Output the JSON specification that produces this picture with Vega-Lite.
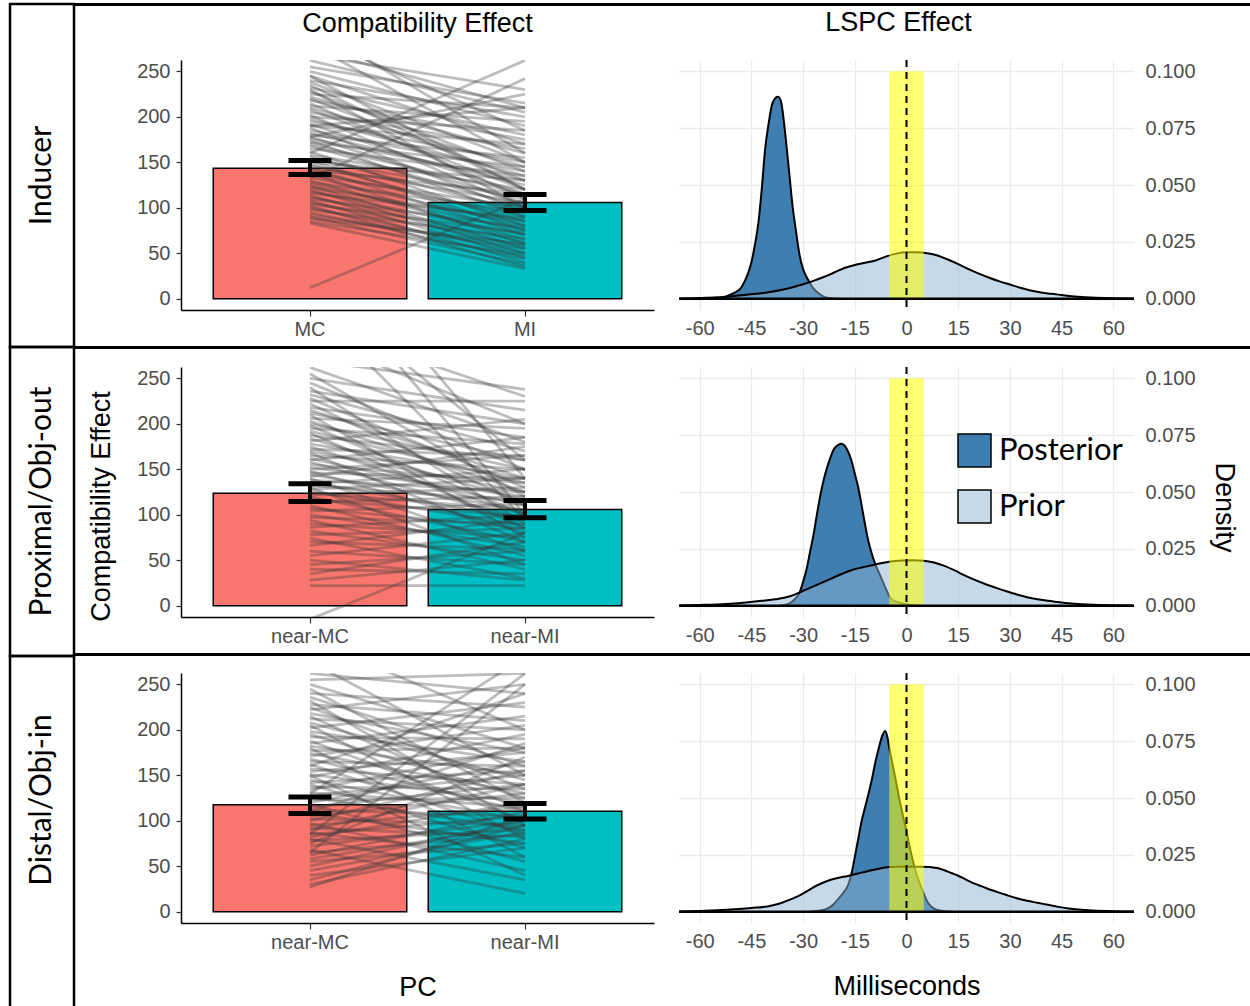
{
"$schema": "https://vega.github.io/schema/vega-lite/v6.json",
"background": "white",
"padding": {"left": 8, "top": 2, "right": 0, "bottom": 0},
"config": {
  "view": {"stroke": null},
  "font": "Liberation Sans",
  "axis": {"labelFont": "Liberation Sans", "labelFontSize": 20, "labelColor": "#4D4D4D", "titleFont": "Liberation Sans", "titleFontSize": 27, "titleFontWeight": "normal", "titleColor": "black", "domainColor": "black", "domainWidth": 1.5, "tickColor": "#333333", "tickWidth": 1.2, "labelOverlap": false, "labelFlush": false, "grid": false},
  "title": {"font": "Liberation Sans", "fontSize": 27, "fontWeight": "normal", "color": "black"}
},
"datasets": {
  "bars1": [{"c":"MC","m":143.5,"lo":136.5,"hi":152},{"c":"MI","m":105.7,"lo":97,"hi":114.5}],
  "bars2": [{"c":"near-MC","m":123.7,"lo":114.5,"hi":134},{"c":"near-MI","m":105.7,"lo":96.6,"hi":115.6}],
  "bars3": [{"c":"near-MC","m":117.5,"lo":108,"hi":126},{"c":"near-MI","m":110.5,"lo":102,"hi":119}],
  "subj1": [{"s":1,"MC":275,"MI":210},{"s":2,"MC":290,"MI":185},{"s":3,"MC":268,"MI":230},{"s":4,"MC":300,"MI":160},{"s":5,"MC":262,"MI":205},{"s":6,"MC":280,"MI":150},{"s":7,"MC":255,"MI":215},{"s":8,"MC":250,"MI":190},{"s":9,"MC":245,"MI":170},{"s":10,"MC":240,"MI":200},{"s":11,"MC":238,"MI":150},{"s":12,"MC":235,"MI":120},{"s":13,"MC":232,"MI":180},{"s":14,"MC":228,"MI":140},{"s":15,"MC":225,"MI":210},{"s":16,"MC":222,"MI":160},{"s":17,"MC":220,"MI":130},{"s":18,"MC":218,"MI":175},{"s":19,"MC":215,"MI":110},{"s":20,"MC":212,"MI":195},{"s":21,"MC":210,"MI":145},{"s":22,"MC":208,"MI":120},{"s":23,"MC":205,"MI":165},{"s":24,"MC":202,"MI":100},{"s":25,"MC":200,"MI":185},{"s":26,"MC":198,"MI":135},{"s":27,"MC":195,"MI":150},{"s":28,"MC":192,"MI":115},{"s":29,"MC":190,"MI":170},{"s":30,"MC":188,"MI":95},{"s":31,"MC":185,"MI":140},{"s":32,"MC":182,"MI":125},{"s":33,"MC":180,"MI":155},{"s":34,"MC":178,"MI":105},{"s":35,"MC":176,"MI":130},{"s":36,"MC":174,"MI":90},{"s":37,"MC":172,"MI":145},{"s":38,"MC":170,"MI":115},{"s":39,"MC":168,"MI":100},{"s":40,"MC":165,"MI":135},{"s":41,"MC":162,"MI":80},{"s":42,"MC":160,"MI":262},{"s":43,"MC":158,"MI":120},{"s":44,"MC":156,"MI":95},{"s":45,"MC":154,"MI":110},{"s":46,"MC":152,"MI":75},{"s":47,"MC":150,"MI":130},{"s":48,"MC":148,"MI":85},{"s":49,"MC":146,"MI":105},{"s":50,"MC":144,"MI":70},{"s":51,"MC":142,"MI":115},{"s":52,"MC":140,"MI":90},{"s":53,"MC":138,"MI":60},{"s":54,"MC":136,"MI":100},{"s":55,"MC":134,"MI":80},{"s":56,"MC":132,"MI":242},{"s":57,"MC":130,"MI":65},{"s":58,"MC":128,"MI":95},{"s":59,"MC":126,"MI":75},{"s":60,"MC":124,"MI":55},{"s":61,"MC":122,"MI":85},{"s":62,"MC":120,"MI":50},{"s":63,"MC":118,"MI":70},{"s":64,"MC":116,"MI":88},{"s":65,"MC":114,"MI":45},{"s":66,"MC":112,"MI":62},{"s":67,"MC":110,"MI":78},{"s":68,"MC":108,"MI":40},{"s":69,"MC":106,"MI":58},{"s":70,"MC":104,"MI":72},{"s":71,"MC":102,"MI":35},{"s":72,"MC":100,"MI":50},{"s":73,"MC":98,"MI":66},{"s":74,"MC":95,"MI":44},{"s":75,"MC":92,"MI":55},{"s":76,"MC":90,"MI":38},{"s":77,"MC":88,"MI":60},{"s":78,"MC":85,"MI":48},{"s":79,"MC":83,"MI":33},{"s":80,"MC":12,"MI":110},{"s":81,"MC":178,"MI":225},{"s":82,"MC":245,"MI":120},{"s":83,"MC":190,"MI":210},{"s":84,"MC":230,"MI":100}],
  "subj2": [{"s":1,"near-MC":420,"near-MI":140},{"s":2,"near-MC":380,"near-MI":100},{"s":3,"near-MC":350,"near-MI":160},{"s":4,"near-MC":330,"near-MI":95},{"s":5,"near-MC":310,"near-MI":230},{"s":6,"near-MC":295,"near-MI":200},{"s":7,"near-MC":270,"near-MI":238},{"s":8,"near-MC":262,"near-MI":180},{"s":9,"near-MC":255,"near-MI":120},{"s":10,"near-MC":250,"near-MI":215},{"s":11,"near-MC":245,"near-MI":150},{"s":12,"near-MC":240,"near-MI":90},{"s":13,"near-MC":236,"near-MI":200},{"s":14,"near-MC":232,"near-MI":170},{"s":15,"near-MC":228,"near-MI":130},{"s":16,"near-MC":225,"near-MI":225},{"s":17,"near-MC":222,"near-MI":110},{"s":18,"near-MC":218,"near-MI":185},{"s":19,"near-MC":215,"near-MI":140},{"s":20,"near-MC":212,"near-MI":160},{"s":21,"near-MC":210,"near-MI":75},{"s":22,"near-MC":206,"near-MI":195},{"s":23,"near-MC":203,"near-MI":125},{"s":24,"near-MC":200,"near-MI":150},{"s":25,"near-MC":198,"near-MI":100},{"s":26,"near-MC":195,"near-MI":178},{"s":27,"near-MC":192,"near-MI":135},{"s":28,"near-MC":190,"near-MI":85},{"s":29,"near-MC":187,"near-MI":160},{"s":30,"near-MC":184,"near-MI":115},{"s":31,"near-MC":181,"near-MI":205},{"s":32,"near-MC":178,"near-MI":140},{"s":33,"near-MC":175,"near-MI":100},{"s":34,"near-MC":172,"near-MI":165},{"s":35,"near-MC":170,"near-MI":125},{"s":36,"near-MC":168,"near-MI":70},{"s":37,"near-MC":165,"near-MI":150},{"s":38,"near-MC":162,"near-MI":110},{"s":39,"near-MC":160,"near-MI":185},{"s":40,"near-MC":158,"near-MI":95},{"s":41,"near-MC":155,"near-MI":135},{"s":42,"near-MC":152,"near-MI":120},{"s":43,"near-MC":150,"near-MI":165},{"s":44,"near-MC":148,"near-MI":80},{"s":45,"near-MC":146,"near-MI":140},{"s":46,"near-MC":144,"near-MI":105},{"s":47,"near-MC":142,"near-MI":175},{"s":48,"near-MC":140,"near-MI":60},{"s":49,"near-MC":138,"near-MI":125},{"s":50,"near-MC":136,"near-MI":95},{"s":51,"near-MC":134,"near-MI":150},{"s":52,"near-MC":132,"near-MI":115},{"s":53,"near-MC":130,"near-MI":45},{"s":54,"near-MC":128,"near-MI":140},{"s":55,"near-MC":126,"near-MI":88},{"s":56,"near-MC":124,"near-MI":105},{"s":57,"near-MC":122,"near-MI":130},{"s":58,"near-MC":120,"near-MI":70},{"s":59,"near-MC":117,"near-MI":98},{"s":60,"near-MC":114,"near-MI":120},{"s":61,"near-MC":110,"near-MI":55},{"s":62,"near-MC":107,"near-MI":85},{"s":63,"near-MC":104,"near-MI":112},{"s":64,"near-MC":100,"near-MI":65},{"s":65,"near-MC":97,"near-MI":90},{"s":66,"near-MC":94,"near-MI":40},{"s":67,"near-MC":90,"near-MI":75},{"s":68,"near-MC":86,"near-MI":100},{"s":69,"near-MC":82,"near-MI":50},{"s":70,"near-MC":78,"near-MI":85},{"s":71,"near-MC":74,"near-MI":30},{"s":72,"near-MC":70,"near-MI":62},{"s":73,"near-MC":66,"near-MI":95},{"s":74,"near-MC":60,"near-MI":45},{"s":75,"near-MC":55,"near-MI":80},{"s":76,"near-MC":50,"near-MI":28},{"s":77,"near-MC":45,"near-MI":60},{"s":78,"near-MC":40,"near-MI":35},{"s":79,"near-MC":35,"near-MI":70},{"s":80,"near-MC":28,"near-MI":50},{"s":81,"near-MC":22,"near-MI":22},{"s":82,"near-MC":-15,"near-MI":80}],
  "subj3": [{"s":1,"near-MC":300,"near-MI":200},{"s":2,"near-MC":275,"near-MI":150},{"s":3,"near-MC":262,"near-MI":240},{"s":4,"near-MC":255,"near-MI":262},{"s":5,"near-MC":250,"near-MI":180},{"s":6,"near-MC":245,"near-MI":120},{"s":7,"near-MC":240,"near-MI":225},{"s":8,"near-MC":236,"near-MI":160},{"s":9,"near-MC":232,"near-MI":95},{"s":10,"near-MC":228,"near-MI":210},{"s":11,"near-MC":225,"near-MI":135},{"s":12,"near-MC":222,"near-MI":250},{"s":13,"near-MC":218,"near-MI":175},{"s":14,"near-MC":215,"near-MI":110},{"s":15,"near-MC":212,"near-MI":200},{"s":16,"near-MC":208,"near-MI":145},{"s":17,"near-MC":205,"near-MI":80},{"s":18,"near-MC":202,"near-MI":230},{"s":19,"near-MC":198,"near-MI":165},{"s":20,"near-MC":195,"near-MI":125},{"s":21,"near-MC":192,"near-MI":190},{"s":22,"near-MC":188,"near-MI":100},{"s":23,"near-MC":185,"near-MI":215},{"s":24,"near-MC":182,"near-MI":150},{"s":25,"near-MC":180,"near-MI":60},{"s":26,"near-MC":177,"near-MI":180},{"s":27,"near-MC":174,"near-MI":130},{"s":28,"near-MC":171,"near-MI":205},{"s":29,"near-MC":168,"near-MI":110},{"s":30,"near-MC":165,"near-MI":160},{"s":31,"near-MC":162,"near-MI":85},{"s":32,"near-MC":160,"near-MI":240},{"s":33,"near-MC":157,"near-MI":140},{"s":34,"near-MC":154,"near-MI":175},{"s":35,"near-MC":151,"near-MI":120},{"s":36,"near-MC":148,"near-MI":195},{"s":37,"near-MC":145,"near-MI":100},{"s":38,"near-MC":142,"near-MI":155},{"s":39,"near-MC":140,"near-MI":70},{"s":40,"near-MC":137,"near-MI":135},{"s":41,"near-MC":134,"near-MI":180},{"s":42,"near-MC":131,"near-MI":115},{"s":43,"near-MC":128,"near-MI":150},{"s":44,"near-MC":126,"near-MI":90},{"s":45,"near-MC":123,"near-MI":125},{"s":46,"near-MC":120,"near-MI":165},{"s":47,"near-MC":118,"near-MI":55},{"s":48,"near-MC":115,"near-MI":140},{"s":49,"near-MC":112,"near-MI":105},{"s":50,"near-MC":110,"near-MI":185},{"s":51,"near-MC":108,"near-MI":75},{"s":52,"near-MC":105,"near-MI":130},{"s":53,"near-MC":102,"near-MI":95},{"s":54,"near-MC":100,"near-MI":155},{"s":55,"near-MC":97,"near-MI":45},{"s":56,"near-MC":95,"near-MI":115},{"s":57,"near-MC":92,"near-MI":82},{"s":58,"near-MC":90,"near-MI":140},{"s":59,"near-MC":87,"near-MI":60},{"s":60,"near-MC":85,"near-MI":105},{"s":61,"near-MC":82,"near-MI":120},{"s":62,"near-MC":80,"near-MI":35},{"s":63,"near-MC":78,"near-MI":90},{"s":64,"near-MC":75,"near-MI":170},{"s":65,"near-MC":72,"near-MI":100},{"s":66,"near-MC":68,"near-MI":20},{"s":67,"near-MC":65,"near-MI":85},{"s":68,"near-MC":62,"near-MI":110},{"s":69,"near-MC":58,"near-MI":95},{"s":70,"near-MC":55,"near-MI":75},{"s":71,"near-MC":50,"near-MI":100},{"s":72,"near-MC":45,"near-MI":88},{"s":73,"near-MC":40,"near-MI":70},{"s":74,"near-MC":35,"near-MI":95},{"s":75,"near-MC":30,"near-MI":80},{"s":76,"near-MC":27,"near-MI":105},{"s":77,"near-MC":65,"near-MI":250},{"s":78,"near-MC":85,"near-MI":262},{"s":79,"near-MC":130,"near-MI":280},{"s":80,"near-MC":150,"near-MI":40}],
  "dens1": [
    {"d":"Posterior","x":-58,"y":0},{"d":"Posterior","x":-54,"y":0.0003},{"d":"Posterior","x":-52,"y":0.0012},{"d":"Posterior","x":-50,"y":0.0025},{"d":"Posterior","x":-48,"y":0.0048},{"d":"Posterior","x":-47,"y":0.0075},{"d":"Posterior","x":-46,"y":0.011},{"d":"Posterior","x":-45,"y":0.016},{"d":"Posterior","x":-44,"y":0.0235},{"d":"Posterior","x":-43,"y":0.033},{"d":"Posterior","x":-42,"y":0.048},{"d":"Posterior","x":-41,"y":0.066},{"d":"Posterior","x":-40,"y":0.077},{"d":"Posterior","x":-39,"y":0.0855},{"d":"Posterior","x":-38,"y":0.0883},{"d":"Posterior","x":-37.3,"y":0.0888},{"d":"Posterior","x":-36.5,"y":0.0872},{"d":"Posterior","x":-35.5,"y":0.077},{"d":"Posterior","x":-35,"y":0.07},{"d":"Posterior","x":-34,"y":0.055},{"d":"Posterior","x":-33,"y":0.04},{"d":"Posterior","x":-32,"y":0.029},{"d":"Posterior","x":-31,"y":0.019},{"d":"Posterior","x":-30,"y":0.013},{"d":"Posterior","x":-29,"y":0.0095},{"d":"Posterior","x":-28,"y":0.0068},{"d":"Posterior","x":-27,"y":0.0045},{"d":"Posterior","x":-26,"y":0.003},{"d":"Posterior","x":-25,"y":0.0018},{"d":"Posterior","x":-24,"y":0.0009},{"d":"Posterior","x":-23,"y":0.0004},{"d":"Posterior","x":-21,"y":0.0001},{"d":"Posterior","x":-19,"y":0},
    {"d":"Prior","x":-66,"y":0.0001},{"d":"Prior","x":-60,"y":0.0003},{"d":"Prior","x":-55,"y":0.0006},{"d":"Prior","x":-50,"y":0.0012},{"d":"Prior","x":-45,"y":0.0019},{"d":"Prior","x":-40,"y":0.0028},{"d":"Prior","x":-35,"y":0.0042},{"d":"Prior","x":-30,"y":0.0063},{"d":"Prior","x":-27,"y":0.0078},{"d":"Prior","x":-24,"y":0.0095},{"d":"Prior","x":-21,"y":0.0115},{"d":"Prior","x":-18,"y":0.0135},{"d":"Prior","x":-15,"y":0.0148},{"d":"Prior","x":-12,"y":0.0158},{"d":"Prior","x":-9,"y":0.0168},{"d":"Prior","x":-6,"y":0.0185},{"d":"Prior","x":-3,"y":0.0198},{"d":"Prior","x":0,"y":0.0204},{"d":"Prior","x":3,"y":0.0204},{"d":"Prior","x":6,"y":0.02},{"d":"Prior","x":9,"y":0.019},{"d":"Prior","x":12,"y":0.0172},{"d":"Prior","x":15,"y":0.0152},{"d":"Prior","x":18,"y":0.013},{"d":"Prior","x":21,"y":0.011},{"d":"Prior","x":24,"y":0.0092},{"d":"Prior","x":27,"y":0.0076},{"d":"Prior","x":30,"y":0.0062},{"d":"Prior","x":33,"y":0.0048},{"d":"Prior","x":36,"y":0.0036},{"d":"Prior","x":39,"y":0.0027},{"d":"Prior","x":42,"y":0.0021},{"d":"Prior","x":45,"y":0.0016},{"d":"Prior","x":48,"y":0.0011},{"d":"Prior","x":51,"y":0.0007},{"d":"Prior","x":55,"y":0.0004},{"d":"Prior","x":60,"y":0.0002},{"d":"Prior","x":66,"y":0.0001}
  ],
  "dens2": [
    {"d":"Posterior","x":-37,"y":0},{"d":"Posterior","x":-35,"y":0.0004},{"d":"Posterior","x":-34,"y":0.001},{"d":"Posterior","x":-33,"y":0.002},{"d":"Posterior","x":-32,"y":0.0035},{"d":"Posterior","x":-31,"y":0.0058},{"d":"Posterior","x":-30,"y":0.0105},{"d":"Posterior","x":-29,"y":0.016},{"d":"Posterior","x":-28,"y":0.0235},{"d":"Posterior","x":-27,"y":0.031},{"d":"Posterior","x":-26,"y":0.04},{"d":"Posterior","x":-25,"y":0.0485},{"d":"Posterior","x":-24,"y":0.0555},{"d":"Posterior","x":-23,"y":0.061},{"d":"Posterior","x":-22,"y":0.0655},{"d":"Posterior","x":-21,"y":0.069},{"d":"Posterior","x":-20,"y":0.0705},{"d":"Posterior","x":-19,"y":0.0712},{"d":"Posterior","x":-18,"y":0.0705},{"d":"Posterior","x":-17,"y":0.068},{"d":"Posterior","x":-16,"y":0.064},{"d":"Posterior","x":-15,"y":0.058},{"d":"Posterior","x":-14,"y":0.052},{"d":"Posterior","x":-13,"y":0.044},{"d":"Posterior","x":-12,"y":0.0355},{"d":"Posterior","x":-11,"y":0.028},{"d":"Posterior","x":-10,"y":0.0225},{"d":"Posterior","x":-9,"y":0.018},{"d":"Posterior","x":-8,"y":0.0145},{"d":"Posterior","x":-7,"y":0.011},{"d":"Posterior","x":-6,"y":0.0075},{"d":"Posterior","x":-5,"y":0.0042},{"d":"Posterior","x":-4,"y":0.0025},{"d":"Posterior","x":-3,"y":0.0018},{"d":"Posterior","x":-2,"y":0.0013},{"d":"Posterior","x":0,"y":0.0006},{"d":"Posterior","x":2,"y":0.0002},{"d":"Posterior","x":4,"y":0},
    {"d":"Prior","x":-66,"y":0.0001},{"d":"Prior","x":-60,"y":0.0003},{"d":"Prior","x":-55,"y":0.0005},{"d":"Prior","x":-50,"y":0.0009},{"d":"Prior","x":-46,"y":0.0015},{"d":"Prior","x":-42,"y":0.0021},{"d":"Prior","x":-38,"y":0.0028},{"d":"Prior","x":-34,"y":0.004},{"d":"Prior","x":-31,"y":0.0058},{"d":"Prior","x":-28,"y":0.0078},{"d":"Prior","x":-25,"y":0.0098},{"d":"Prior","x":-22,"y":0.0118},{"d":"Prior","x":-19,"y":0.0138},{"d":"Prior","x":-16,"y":0.0156},{"d":"Prior","x":-13,"y":0.0168},{"d":"Prior","x":-10,"y":0.0178},{"d":"Prior","x":-7,"y":0.0188},{"d":"Prior","x":-4,"y":0.0195},{"d":"Prior","x":-1,"y":0.0199},{"d":"Prior","x":2,"y":0.02},{"d":"Prior","x":5,"y":0.0198},{"d":"Prior","x":8,"y":0.019},{"d":"Prior","x":11,"y":0.0175},{"d":"Prior","x":14,"y":0.0155},{"d":"Prior","x":17,"y":0.0132},{"d":"Prior","x":20,"y":0.0112},{"d":"Prior","x":23,"y":0.0094},{"d":"Prior","x":26,"y":0.0078},{"d":"Prior","x":29,"y":0.0063},{"d":"Prior","x":32,"y":0.0049},{"d":"Prior","x":35,"y":0.0037},{"d":"Prior","x":38,"y":0.0028},{"d":"Prior","x":41,"y":0.0021},{"d":"Prior","x":44,"y":0.0016},{"d":"Prior","x":47,"y":0.0011},{"d":"Prior","x":50,"y":0.0007},{"d":"Prior","x":54,"y":0.0004},{"d":"Prior","x":60,"y":0.0002},{"d":"Prior","x":66,"y":0.0001}
  ],
  "dens3": [
    {"d":"Posterior","x":-28,"y":0},{"d":"Posterior","x":-25,"y":0.0005},{"d":"Posterior","x":-23,"y":0.0013},{"d":"Posterior","x":-22,"y":0.0022},{"d":"Posterior","x":-21,"y":0.0035},{"d":"Posterior","x":-20,"y":0.0052},{"d":"Posterior","x":-19,"y":0.007},{"d":"Posterior","x":-18,"y":0.009},{"d":"Posterior","x":-17,"y":0.0115},{"d":"Posterior","x":-16,"y":0.0165},{"d":"Posterior","x":-15,"y":0.024},{"d":"Posterior","x":-14,"y":0.032},{"d":"Posterior","x":-13,"y":0.04},{"d":"Posterior","x":-12,"y":0.046},{"d":"Posterior","x":-11,"y":0.052},{"d":"Posterior","x":-10,"y":0.0585},{"d":"Posterior","x":-9,"y":0.066},{"d":"Posterior","x":-8,"y":0.0722},{"d":"Posterior","x":-7,"y":0.0775},{"d":"Posterior","x":-6.2,"y":0.0795},{"d":"Posterior","x":-5.5,"y":0.0765},{"d":"Posterior","x":-5,"y":0.072},{"d":"Posterior","x":-4,"y":0.0645},{"d":"Posterior","x":-3,"y":0.057},{"d":"Posterior","x":-2,"y":0.049},{"d":"Posterior","x":-1,"y":0.042},{"d":"Posterior","x":0,"y":0.0355},{"d":"Posterior","x":1,"y":0.028},{"d":"Posterior","x":2,"y":0.0215},{"d":"Posterior","x":3,"y":0.016},{"d":"Posterior","x":4,"y":0.0118},{"d":"Posterior","x":5,"y":0.008},{"d":"Posterior","x":6,"y":0.0045},{"d":"Posterior","x":7,"y":0.0025},{"d":"Posterior","x":8,"y":0.0013},{"d":"Posterior","x":9,"y":0.0007},{"d":"Posterior","x":11,"y":0.0002},{"d":"Posterior","x":13,"y":0},
    {"d":"Prior","x":-66,"y":0.0001},{"d":"Prior","x":-60,"y":0.0003},{"d":"Prior","x":-55,"y":0.0006},{"d":"Prior","x":-50,"y":0.001},{"d":"Prior","x":-45,"y":0.0016},{"d":"Prior","x":-40,"y":0.0024},{"d":"Prior","x":-37,"y":0.0035},{"d":"Prior","x":-34,"y":0.0052},{"d":"Prior","x":-31,"y":0.0072},{"d":"Prior","x":-28,"y":0.0098},{"d":"Prior","x":-26,"y":0.0115},{"d":"Prior","x":-23,"y":0.0135},{"d":"Prior","x":-20,"y":0.0148},{"d":"Prior","x":-17,"y":0.0157},{"d":"Prior","x":-14,"y":0.0168},{"d":"Prior","x":-11,"y":0.0179},{"d":"Prior","x":-8,"y":0.0189},{"d":"Prior","x":-5,"y":0.0196},{"d":"Prior","x":-2,"y":0.0198},{"d":"Prior","x":1,"y":0.0198},{"d":"Prior","x":4,"y":0.0198},{"d":"Prior","x":7,"y":0.0196},{"d":"Prior","x":9,"y":0.0192},{"d":"Prior","x":11,"y":0.0182},{"d":"Prior","x":13,"y":0.017},{"d":"Prior","x":15,"y":0.0158},{"d":"Prior","x":17,"y":0.0143},{"d":"Prior","x":19,"y":0.0128},{"d":"Prior","x":21,"y":0.0116},{"d":"Prior","x":23,"y":0.0104},{"d":"Prior","x":26,"y":0.0088},{"d":"Prior","x":29,"y":0.0073},{"d":"Prior","x":32,"y":0.0059},{"d":"Prior","x":35,"y":0.0048},{"d":"Prior","x":38,"y":0.0039},{"d":"Prior","x":41,"y":0.003},{"d":"Prior","x":44,"y":0.0021},{"d":"Prior","x":47,"y":0.0014},{"d":"Prior","x":50,"y":0.0009},{"d":"Prior","x":54,"y":0.0005},{"d":"Prior","x":60,"y":0.0002},{"d":"Prior","x":66,"y":0.0001}
  ],
  "rope": [{"a":-5,"b":5,"lo":0,"hi":0.1}],
  "one": [{"z":0}],
  "none": []
},
"spacing": -2,
"bounds": "full",
"hconcat": [
  {"vconcat": [
    {"width": 64, "height": 343, "view": {"stroke": "black", "strokeWidth": 2.5}, "data": {"values": [{"t": "Inducer"}]}, "mark": {"type": "text", "angle": 270, "font": "Lato", "fontSize": 30, "color": "black", "align": "center", "baseline": "middle"}, "encoding": {"text": {"field": "t"}}},
    {"width": 64, "height": 309, "view": {"stroke": "black", "strokeWidth": 2.5}, "data": {"values": [{"t": "Proximal/Obj-out"}]}, "mark": {"type": "text", "angle": 270, "font": "Lato", "fontSize": 30, "color": "black", "align": "center", "baseline": "middle"}, "encoding": {"text": {"field": "t"}}},
    {"width": 64, "height": 356, "view": {"stroke": "black", "strokeWidth": 2.5}, "data": {"values": [{"t": "Distal/Obj-in"}]}, "mark": {"type": "text", "angle": 270, "font": "Lato", "fontSize": 30, "color": "black", "align": "center", "baseline": "middle", "yOffset": -34}, "encoding": {"text": {"field": "t"}}}
  ], "spacing": 0, "bounds": "flush"},
  {"vconcat": [
    {"vconcat": [
      {"width": 1176, "height": 1, "view": {"stroke": "black", "strokeWidth": 2}, "data": {"name": "none"}, "mark": "point", "encoding": {}},
      {"hconcat": [
        {"width": 80, "height": 250, "data": {"name": "none"}, "mark": "point", "encoding": {}},
        {"width": 473, "height": 250,
         "title": {"text": "Compatibility Effect", "offset": 22},
         "layer": [
          {"data": {"name": "bars1"}, "mark": {"type": "bar", "stroke": "black", "strokeWidth": 1.5},
           "encoding": {
             "x": {"field": "c", "type": "nominal", "scale": {"domain": ["MC","MI"], "paddingInner": 0.1, "paddingOuter": 0.15}, "axis": {"title": null, "labelAngle": 0, "tickSize": 6, "labelPadding": 3}},
             "y": {"field": "m", "type": "quantitative", "title": null, "scale": {"domain": [-12.5, 262.5], "nice": false, "zero": false}, "axis": {"values": [0,50,100,150,200,250], "title": null, "tickSize": 5, "labelPadding": 6}},
             "fill": {"field": "c", "type": "nominal", "scale": {"domain": ["MC","MI"], "range": ["#F8766D","#00BFC4"]}, "legend": null}}},
          {"data": {"name": "subj1"}, "transform": [{"fold": ["MC","MI"], "as": ["c","v"]}],
           "mark": {"type": "line", "color": "#383838", "opacity": 0.33, "strokeWidth": 2.8, "clip": true},
           "encoding": {"x": {"field": "c", "type": "nominal"}, "y": {"field": "v", "type": "quantitative", "title": null}, "detail": {"field": "s", "type": "nominal"}}},
          {"data": {"name": "bars1"}, "mark": {"type": "errorbar", "ticks": {"size": 43, "thickness": 5, "color": "black", "opacity": 1}, "rule": {"strokeWidth": 4, "color": "black", "opacity": 1}, "color": "black", "opacity": 1},
           "encoding": {"x": {"field": "c", "type": "nominal"}, "y": {"field": "lo", "type": "quantitative", "title": null}, "y2": {"field": "hi"}}}
         ]},
        {"width": 455, "height": 250,
         "title": {"text": "LSPC Effect", "offset": 22, "dx": -8},
         "layer": [
          {"data": {"name": "dens1"}, "transform": [{"filter": "datum.d === 'Posterior'"}], "mark": {"type": "area", "fill": "#3E7EB0", "interpolate": "monotone"},
           "encoding": {
             "x": {"field": "x", "type": "quantitative", "scale": {"domain": [-66, 66], "nice": false, "zero": false}, "axis": {"values": [-60,-52.5,-45,-37.5,-30,-22.5,-15,-7.5,0,7.5,15,22.5,30,37.5,45,52.5,60], "labelExpr": "datum.value % 15 === 0 ? '' + datum.value : ''", "domain": false, "ticks": false, "tickSize": 0, "grid": true, "gridColor": "#EBEBEB", "gridWidth": 1.3, "labelPadding": 8, "title": null}},
             "y": {"field": "y", "type": "quantitative", "stack": null, "scale": {"domain": [-0.005, 0.105], "nice": false, "zero": false}, "axis": {"orient": "right", "values": [0,0.0125,0.025,0.0375,0.05,0.0625,0.075,0.0875,0.1], "labelExpr": "round(datum.value*1000) % 25 === 0 ? format(datum.value, '.3f') : ''", "domain": false, "ticks": false, "tickSize": 0, "grid": true, "gridColor": "#EBEBEB", "gridWidth": 1.3, "labelPadding": 11, "title": null}}}},
          {"data": {"name": "dens1"}, "transform": [{"filter": "datum.d === 'Posterior'"}], "mark": {"type": "line", "color": "black", "strokeWidth": 2, "interpolate": "monotone"},
           "encoding": {"x": {"field": "x", "type": "quantitative"}, "y": {"field": "y", "type": "quantitative"}}},
          {"data": {"name": "dens1"}, "transform": [{"filter": "datum.d === 'Prior'"}], "mark": {"type": "area", "fill": "#8DB3D1", "fillOpacity": 0.5, "interpolate": "monotone"},
           "encoding": {"x": {"field": "x", "type": "quantitative"}, "y": {"field": "y", "type": "quantitative", "stack": null}}},
          {"data": {"name": "dens1"}, "transform": [{"filter": "datum.d === 'Prior'"}], "mark": {"type": "line", "color": "black", "strokeWidth": 2, "interpolate": "monotone"},
           "encoding": {"x": {"field": "x", "type": "quantitative"}, "y": {"field": "y", "type": "quantitative"}}},
          {"data": {"name": "rope"}, "mark": {"type": "rect", "fill": "#FFFF00", "opacity": 0.55},
           "encoding": {"x": {"field": "a", "type": "quantitative"}, "x2": {"field": "b"}, "y": {"field": "lo", "type": "quantitative"}, "y2": {"field": "hi"}}},
          {"data": {"name": "one"}, "mark": {"type": "rule", "color": "black", "strokeWidth": 2, "strokeDash": [7, 5]}, "encoding": {"x": {"datum": 0}}},
          {"data": {"name": "one"}, "mark": {"type": "rule", "color": "black", "strokeWidth": 2.5}, "encoding": {"y": {"datum": 0}}}
         ]}
      ], "spacing": 25, "bounds": "flush"}
    ], "spacing": 3, "bounds": "full"},
    {"vconcat": [
      {"width": 1176, "height": 1, "view": {"stroke": "black", "strokeWidth": 2}, "data": {"name": "none"}, "mark": "point", "encoding": {}},
      {"hconcat": [
        {"width": 80, "height": 250, "data": {"name": "none"}, "mark": "point", "encoding": {}},
        {"width": 473, "height": 250,
         "layer": [
          {"data": {"name": "bars2"}, "mark": {"type": "bar", "stroke": "black", "strokeWidth": 1.5},
           "encoding": {
             "x": {"field": "c", "type": "nominal", "scale": {"domain": ["near-MC","near-MI"], "paddingInner": 0.1, "paddingOuter": 0.15}, "axis": {"title": null, "labelAngle": 0, "tickSize": 6, "labelPadding": 3}},
             "y": {"field": "m", "type": "quantitative", "title": "Compatibility Effect", "scale": {"domain": [-12.5, 262.5], "nice": false, "zero": false}, "axis": {"values": [0,50,100,150,200,250], "title": "Compatibility Effect", "titlePadding": 21, "titleY": 139, "tickSize": 5, "labelPadding": 6}},
             "fill": {"field": "c", "type": "nominal", "scale": {"domain": ["near-MC","near-MI"], "range": ["#F8766D","#00BFC4"]}, "legend": null}}},
          {"data": {"name": "subj2"}, "transform": [{"fold": ["near-MC","near-MI"], "as": ["c","v"]}],
           "mark": {"type": "line", "color": "#383838", "opacity": 0.33, "strokeWidth": 2.8, "clip": true},
           "encoding": {"x": {"field": "c", "type": "nominal"}, "y": {"field": "v", "type": "quantitative", "title": "Compatibility Effect"}, "detail": {"field": "s", "type": "nominal"}}},
          {"data": {"name": "bars2"}, "mark": {"type": "errorbar", "ticks": {"size": 43, "thickness": 5, "color": "black", "opacity": 1}, "rule": {"strokeWidth": 4, "color": "black", "opacity": 1}, "color": "black", "opacity": 1},
           "encoding": {"x": {"field": "c", "type": "nominal"}, "y": {"field": "lo", "type": "quantitative", "title": "Compatibility Effect"}, "y2": {"field": "hi"}}}
         ]},
        {"width": 455, "height": 250,
         "layer": [
          {"data": {"name": "dens2"}, "transform": [{"filter": "datum.d === 'Posterior'"}], "mark": {"type": "area", "interpolate": "monotone"},
           "encoding": {
             "x": {"field": "x", "type": "quantitative", "scale": {"domain": [-66, 66], "nice": false, "zero": false}, "axis": {"values": [-60,-52.5,-45,-37.5,-30,-22.5,-15,-7.5,0,7.5,15,22.5,30,37.5,45,52.5,60], "labelExpr": "datum.value % 15 === 0 ? '' + datum.value : ''", "domain": false, "ticks": false, "tickSize": 0, "grid": true, "gridColor": "#EBEBEB", "gridWidth": 1.3, "labelPadding": 8, "title": null}},
             "y": {"field": "y", "type": "quantitative", "stack": null, "title": "Density", "scale": {"domain": [-0.005, 0.105], "nice": false, "zero": false}, "axis": {"orient": "right", "values": [0,0.0125,0.025,0.0375,0.05,0.0625,0.075,0.0875,0.1], "labelExpr": "round(datum.value*1000) % 25 === 0 ? format(datum.value, '.3f') : ''", "domain": false, "ticks": false, "tickSize": 0, "grid": true, "gridColor": "#EBEBEB", "gridWidth": 1.3, "labelPadding": 11, "title": "Density", "titlePadding": 14, "titleY": 140}},
             "color": {"field": "d", "type": "nominal", "scale": {"domain": ["Posterior","Prior"], "range": ["#3E7EB0","#C6D9E8"]},
               "legend": {"orient": "none", "legendX": 947, "legendY": 429, "title": null, "symbolType": "square", "symbolSize": 1089, "symbolStrokeColor": "black", "symbolStrokeWidth": 1.5, "symbolOpacity": 1, "labelFont": "Lato", "labelFontSize": 31, "labelColor": "black", "labelOffset": 7, "rowPadding": 17}}}},
          {"data": {"name": "dens2"}, "transform": [{"filter": "datum.d === 'Posterior'"}], "mark": {"type": "line", "color": "black", "strokeWidth": 2, "interpolate": "monotone"},
           "encoding": {"x": {"field": "x", "type": "quantitative"}, "y": {"field": "y", "type": "quantitative", "title": "Density"}}},
          {"data": {"name": "dens2"}, "transform": [{"filter": "datum.d === 'Prior'"}], "mark": {"type": "area", "fill": "#8DB3D1", "fillOpacity": 0.5, "interpolate": "monotone"},
           "encoding": {"x": {"field": "x", "type": "quantitative"}, "y": {"field": "y", "type": "quantitative", "stack": null, "title": "Density"}}},
          {"data": {"name": "dens2"}, "transform": [{"filter": "datum.d === 'Prior'"}], "mark": {"type": "line", "color": "black", "strokeWidth": 2, "interpolate": "monotone"},
           "encoding": {"x": {"field": "x", "type": "quantitative"}, "y": {"field": "y", "type": "quantitative", "title": "Density"}}},
          {"data": {"name": "rope"}, "mark": {"type": "rect", "fill": "#FFFF00", "opacity": 0.55},
           "encoding": {"x": {"field": "a", "type": "quantitative"}, "x2": {"field": "b"}, "y": {"field": "lo", "type": "quantitative", "title": "Density"}, "y2": {"field": "hi"}}},
          {"data": {"name": "one"}, "mark": {"type": "rule", "color": "black", "strokeWidth": 2, "strokeDash": [7, 5]}, "encoding": {"x": {"datum": 0}}},
          {"data": {"name": "one"}, "mark": {"type": "rule", "color": "black", "strokeWidth": 2.5}, "encoding": {"y": {"datum": 0, "title": "Density"}}}
         ]}
      ], "spacing": 25, "bounds": "flush"}
    ], "spacing": 17, "bounds": "full"},
    {"vconcat": [
      {"width": 1176, "height": 1, "view": {"stroke": "black", "strokeWidth": 2}, "data": {"name": "none"}, "mark": "point", "encoding": {}},
      {"hconcat": [
        {"width": 80, "height": 250, "data": {"name": "none"}, "mark": "point", "encoding": {}},
        {"width": 473, "height": 250,
         "layer": [
          {"data": {"name": "bars3"}, "mark": {"type": "bar", "stroke": "black", "strokeWidth": 1.5},
           "encoding": {
             "x": {"field": "c", "type": "nominal", "title": "PC", "scale": {"domain": ["near-MC","near-MI"], "paddingInner": 0.1, "paddingOuter": 0.15}, "axis": {"title": "PC", "titlePadding": 22, "labelAngle": 0, "tickSize": 6, "labelPadding": 3}},
             "y": {"field": "m", "type": "quantitative", "title": null, "scale": {"domain": [-12.5, 262.5], "nice": false, "zero": false}, "axis": {"values": [0,50,100,150,200,250], "title": null, "tickSize": 5, "labelPadding": 6}},
             "fill": {"field": "c", "type": "nominal", "scale": {"domain": ["near-MC","near-MI"], "range": ["#F8766D","#00BFC4"]}, "legend": null}}},
          {"data": {"name": "subj3"}, "transform": [{"fold": ["near-MC","near-MI"], "as": ["c","v"]}],
           "mark": {"type": "line", "color": "#383838", "opacity": 0.33, "strokeWidth": 2.8, "clip": true},
           "encoding": {"x": {"field": "c", "type": "nominal", "title": "PC"}, "y": {"field": "v", "type": "quantitative", "title": null}, "detail": {"field": "s", "type": "nominal"}}},
          {"data": {"name": "bars3"}, "mark": {"type": "errorbar", "ticks": {"size": 43, "thickness": 5, "color": "black", "opacity": 1}, "rule": {"strokeWidth": 4, "color": "black", "opacity": 1}, "color": "black", "opacity": 1},
           "encoding": {"x": {"field": "c", "type": "nominal", "title": "PC"}, "y": {"field": "lo", "type": "quantitative", "title": null}, "y2": {"field": "hi"}}}
         ]},
        {"width": 455, "height": 250,
         "layer": [
          {"data": {"name": "dens3"}, "transform": [{"filter": "datum.d === 'Posterior'"}], "mark": {"type": "area", "fill": "#3E7EB0", "interpolate": "monotone"},
           "encoding": {
             "x": {"field": "x", "type": "quantitative", "title": "Milliseconds", "scale": {"domain": [-66, 66], "nice": false, "zero": false}, "axis": {"values": [-60,-52.5,-45,-37.5,-30,-22.5,-15,-7.5,0,7.5,15,22.5,30,37.5,45,52.5,60], "labelExpr": "datum.value % 15 === 0 ? '' + datum.value : ''", "domain": false, "ticks": false, "tickSize": 0, "grid": true, "gridColor": "#EBEBEB", "gridWidth": 1.3, "labelPadding": 8, "title": "Milliseconds", "titlePadding": 22}},
             "y": {"field": "y", "type": "quantitative", "stack": null, "scale": {"domain": [-0.005, 0.105], "nice": false, "zero": false}, "axis": {"orient": "right", "values": [0,0.0125,0.025,0.0375,0.05,0.0625,0.075,0.0875,0.1], "labelExpr": "round(datum.value*1000) % 25 === 0 ? format(datum.value, '.3f') : ''", "domain": false, "ticks": false, "tickSize": 0, "grid": true, "gridColor": "#EBEBEB", "gridWidth": 1.3, "labelPadding": 11, "title": null}}}},
          {"data": {"name": "dens3"}, "transform": [{"filter": "datum.d === 'Posterior'"}], "mark": {"type": "line", "color": "black", "strokeWidth": 2, "interpolate": "monotone"},
           "encoding": {"x": {"field": "x", "type": "quantitative", "title": "Milliseconds"}, "y": {"field": "y", "type": "quantitative"}}},
          {"data": {"name": "dens3"}, "transform": [{"filter": "datum.d === 'Prior'"}], "mark": {"type": "area", "fill": "#8DB3D1", "fillOpacity": 0.5, "interpolate": "monotone"},
           "encoding": {"x": {"field": "x", "type": "quantitative", "title": "Milliseconds"}, "y": {"field": "y", "type": "quantitative", "stack": null}}},
          {"data": {"name": "dens3"}, "transform": [{"filter": "datum.d === 'Prior'"}], "mark": {"type": "line", "color": "black", "strokeWidth": 2, "interpolate": "monotone"},
           "encoding": {"x": {"field": "x", "type": "quantitative", "title": "Milliseconds"}, "y": {"field": "y", "type": "quantitative"}}},
          {"data": {"name": "rope"}, "mark": {"type": "rect", "fill": "#FFFF00", "opacity": 0.55},
           "encoding": {"x": {"field": "a", "type": "quantitative", "title": "Milliseconds"}, "x2": {"field": "b"}, "y": {"field": "lo", "type": "quantitative"}, "y2": {"field": "hi"}}},
          {"data": {"name": "one"}, "mark": {"type": "rule", "color": "black", "strokeWidth": 2, "strokeDash": [7, 5]}, "encoding": {"x": {"datum": 0, "title": "Milliseconds"}}},
          {"data": {"name": "one"}, "mark": {"type": "rule", "color": "black", "strokeWidth": 2.5}, "encoding": {"y": {"datum": 0}}}
         ]}
      ], "spacing": 25, "bounds": "flush"}
    ], "spacing": 16, "bounds": "full"}
  ], "spacing": 7, "bounds": "full"}
]
}
